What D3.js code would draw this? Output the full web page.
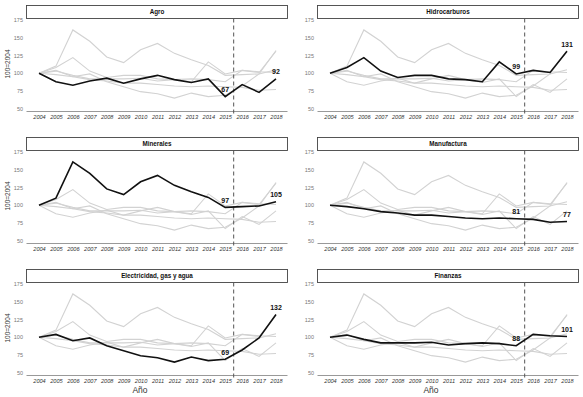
<!DOCTYPE html>
<html>
<head>
<meta charset="utf-8">
<script src="https://cdn.jsdelivr.net/npm/d3@7"></script>
<style>
  body { margin: 0; background: #fff; }
  svg { font-family: "Liberation Sans", Arial, sans-serif; }
</style>
</head>
<body>
<svg id="chart"></svg>
<script>
const years = [2004, 2005, 2006, 2007, 2008, 2009, 2010, 2011, 2012, 2013, 2014, 2015, 2016, 2017, 2018];
const sectorNames = ["Agro", "Hidrocarburos", "Minerales", "Manufactura", "Electricidad, gas y agua", "Finanzas"];

// indices 100=2004
const agro = [100, 88, 83, 89, 93, 86, 92, 97, 91, 87, 92, 67, 84, 73, 92];
const hidrocarburos = [100, 108, 122, 103, 94, 97, 97, 92, 91, 88, 116, 99, 104, 101, 131];
const minerales = [100, 110, 161, 145, 123, 115, 133, 142, 128, 119, 111, 97, 98, 99, 105];
const manufactura = [100, 98, 95, 91, 89, 86, 86, 84, 82, 81, 82, 81, 80, 76, 77];
const electricidad = [100, 104, 95, 99, 88, 81, 74, 71, 65, 72, 67, 69, 82, 99, 132];
const finanzas = [100, 103, 97, 92, 92, 92, 93, 89, 91, 92, 91, 88, 104, 102, 101];

const seriesValues = [agro, hidrocarburos, minerales, manufactura, electricidad, finanzas];
const yTickValues = [50, 75, 100, 125, 150, 175];
const breakYear = 2015.5;
const labelYears = [2015, 2018];

const width = 583;
const height = 397;
const colStep = 291;
const rowStep = 132;

const svg = d3.select("#chart").attr("width", width).attr("height", height);

// shared scales (inside one panel)
const xScale = d3.scaleLinear().domain([2004, 2018]).range([39, 276]);
const yScale = d3.scaleLinear().domain([50, 175]).range([108.7, 20]);

const line = d3
  .line()
  .x((d, i) => xScale(years[i]))
  .y((d) => yScale(d));

seriesValues.forEach(function (values, idx) {
  const col = idx % 2;
  const row = Math.floor(idx / 2);
  const g = svg.append("g").attr("transform", `translate(${col * colStep},${row * rowStep})`);

  // title strip
  g.append("rect")
    .attr("x", 26.5)
    .attr("y", 5.5)
    .attr("width", 261)
    .attr("height", 13)
    .attr("fill", "#fff")
    .attr("stroke", "#444")
    .attr("stroke-width", 0.9);

  g.append("text")
    .attr("x", 157)
    .attr("y", 14.3)
    .attr("text-anchor", "middle")
    .style("font-size", "6.3px")
    .style("font-weight", "bold")
    .style("fill", "#111")
    .text(sectorNames[idx]);

  // y axis (labels only)
  const yAxis = g.append("g")
    .attr("transform", "translate(23,0)")
    .call(d3.axisLeft(yScale).tickValues(yTickValues).tickSize(0).tickPadding(0));
  yAxis.select(".domain").remove();
  yAxis.selectAll("text").style("font-size", "5.5px").style("fill", "#777").style("font-family", "inherit");

  // x axis line
  g.append("line")
    .attr("x1", 26.5)
    .attr("x2", 287.5)
    .attr("y1", 111.5)
    .attr("y2", 111.5)
    .attr("stroke", "#999")
    .attr("stroke-width", 1);

  const xAxis = g.append("g")
    .attr("transform", "translate(0,111.5)")
    .call(d3.axisBottom(xScale).tickValues(years).tickFormat(d3.format("d")).tickSize(0).tickPadding(3.5));
  xAxis.select(".domain").remove();
  xAxis.selectAll("text")
    .style("font-size", "5.6px")
    .style("font-style", "italic")
    .style("fill", "#333")
    .style("font-family", "inherit");

  // other sectors in gray
  seriesValues.forEach(function (other, j) {
    if (j === idx) return;
    g.append("path")
      .datum(other)
      .attr("d", line)
      .attr("fill", "none")
      .attr("stroke", "#d2d2d2")
      .attr("stroke-width", 1.1);
  });

  // break line
  g.append("line")
    .attr("x1", xScale(breakYear))
    .attr("x2", xScale(breakYear))
    .attr("y1", 18.5)
    .attr("y2", 115.5)
    .attr("stroke", "#555")
    .attr("stroke-width", 1)
    .attr("stroke-dasharray", "4,3");

  // featured sector
  g.append("path")
    .datum(values)
    .attr("d", line)
    .attr("fill", "none")
    .attr("stroke", "#111")
    .attr("stroke-width", 1.6);

  g.selectAll(".val-label")
    .data(labelYears)
    .enter()
    .append("text")
    .attr("class", "val-label")
    .attr("x", (d) => xScale(d))
    .attr("y", (d) => yScale(values[years.indexOf(d)]) - 4.5)
    .attr("text-anchor", "middle")
    .style("font-size", "7px")
    .style("font-weight", "bold")
    .style("fill", "#111")
    .text((d) => values[years.indexOf(d)]);

  if (col === 0) {
    g.append("text")
      .attr("transform", "translate(10,64) rotate(-90)")
      .attr("text-anchor", "middle")
      .style("font-size", "6.5px")
      .style("fill", "#333")
      .text("100=2004");
  }

  if (row === 2) {
    g.append("text")
      .attr("x", 140)
      .attr("y", 129)
      .attr("text-anchor", "middle")
      .style("font-size", "8.5px")
      .style("fill", "#333")
      .text("Año");
  }
});
</script>
</body>
</html>
